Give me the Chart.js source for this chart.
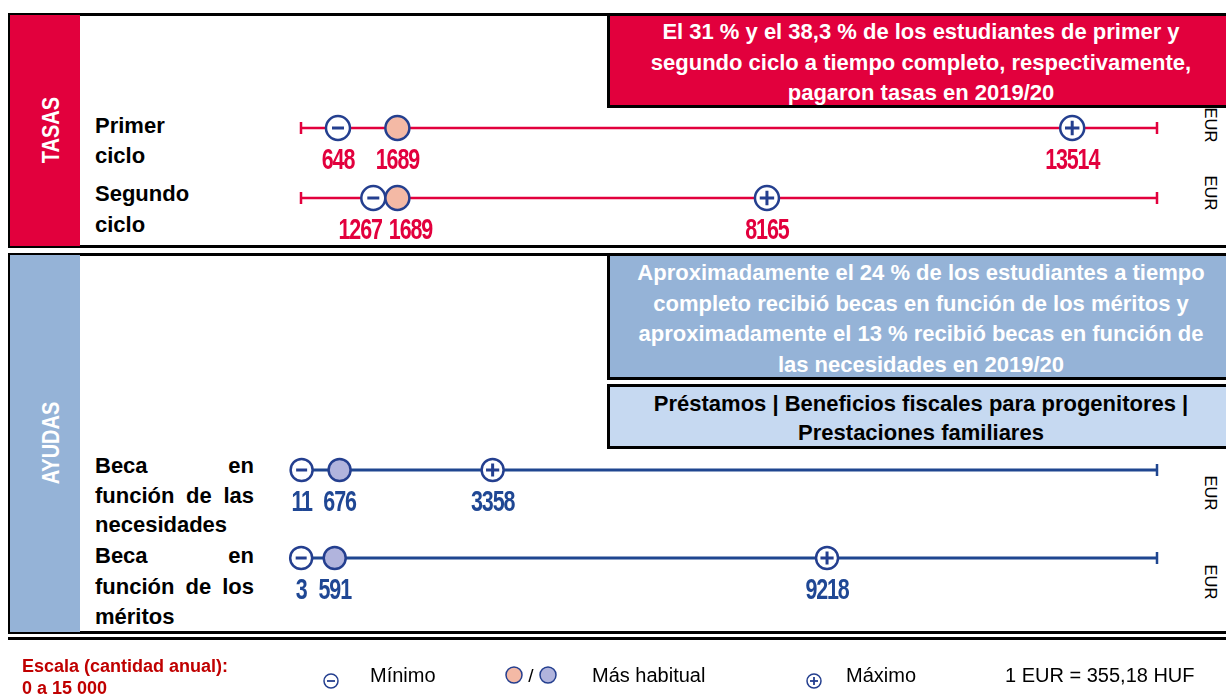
<!DOCTYPE html>
<html lang="es">
<head>
<meta charset="utf-8">
<title>Tasas y ayudas 2019/20</title>
<script src="https://cdn.jsdelivr.net/npm/chart.js@4.4.1/dist/chart.umd.min.js"></script>
<style>
body{margin:0;background:#fff;font-family:"Liberation Sans",Arial,sans-serif;}
#page{position:relative;width:1226px;height:699px;overflow:hidden;background:#fff;}
.abs{position:absolute;box-sizing:border-box;}
.frame{border:3px solid #000;border-right:none;}
.side-label{position:absolute;color:#fff;font-weight:bold;font-size:20px;transform:translate(-50%,-50%) rotate(-90deg) scale(1,1.15);white-space:nowrap;}
.callout{border:3px solid #000;border-right:none;text-align:center;font-weight:bold;font-size:22px;line-height:30.5px;}
.row-label{position:absolute;left:95px;width:159px;font-weight:bold;font-size:22px;line-height:30px;color:#000;text-align:justify;text-align-last:left;}
.eur{position:absolute;font-size:16.5px;transform:translate(-50%,-50%) rotate(90deg);white-space:nowrap;color:#000;}
.legend{position:absolute;font-size:20px;color:#000;white-space:nowrap;transform:translateY(-50%);}
canvas{position:absolute;left:0;top:0;pointer-events:none;}
</style>
</head>
<body>
<div id="page">
  <!-- TASAS -->
  <div class="abs frame" style="left:8px;top:13px;width:1230px;height:235px;"></div>
  <div class="abs" style="left:10px;top:15px;width:70px;height:231px;background:#e2003d;"></div>
  <div class="side-label" style="left:52px;top:130px;">TASAS</div>
  <div class="abs callout" style="left:607px;top:13px;width:625px;height:95px;background:#e2003d;color:#fff;padding-top:1px;">
    El 31 % y el 38,3 % de los estudiantes de primer y<br>segundo ciclo a tiempo completo, respectivamente,<br>pagaron tasas en 2019/20
  </div>
  <div class="row-label" style="top:111px;">Primer<br>ciclo</div>
  <div class="row-label" style="top:178px;line-height:31px;">Segundo<br>ciclo</div>
  <div class="eur" style="left:1210px;top:125px;">EUR</div>
  <div class="eur" style="left:1210px;top:193px;">EUR</div>

  <!-- AYUDAS -->
  <div class="abs frame" style="left:8px;top:253px;width:1230px;height:381px;"></div>
  <div class="abs" style="left:10px;top:255px;width:70px;height:377px;background:#95b3d7;"></div>
  <div class="side-label" style="left:52px;top:443px;">AYUDAS</div>
  <div class="abs callout" style="left:607px;top:253px;width:625px;height:127px;background:#95b3d7;color:#fff;padding-top:2px;">
    Aproximadamente el 24 % de los estudiantes a tiempo<br>completo recibió becas en función de los méritos y<br>aproximadamente el 13 % recibió becas en función de<br>las necesidades en 2019/20
  </div>
  <div class="abs callout" style="left:607px;top:384px;width:625px;height:65px;background:#c6d9f1;color:#000;line-height:29px;padding-top:2px;">
    Préstamos | Beneficios fiscales para progenitores |<br>Prestaciones familiares
  </div>
  <div class="row-label" style="top:451px;line-height:29.5px;">Beca en función de las necesidades</div>
  <div class="row-label" style="top:541px;line-height:30.5px;">Beca en función de los méritos</div>
  <div class="eur" style="left:1210px;top:493px;">EUR</div>
  <div class="eur" style="left:1210px;top:582px;">EUR</div>

  <div class="abs" style="left:8px;top:637px;width:1218px;height:3px;background:#000;"></div>

  <canvas id="tasas-chart" width="1226" height="699"></canvas>
  <canvas id="ayudas-chart" width="1226" height="699"></canvas>

  <!-- legend -->
  <div class="legend" style="left:22px;top:666px;font-size:18px;font-weight:bold;color:#c00000;">Escala (cantidad anual):</div>
  <div class="legend" style="left:22px;top:688px;font-size:18px;font-weight:bold;color:#c00000;">0 a 15 000</div>
  <svg class="abs" style="left:322px;top:672px;" width="18" height="18"><circle cx="9" cy="9" r="7" fill="#fff" stroke="#243f8f" stroke-width="1.5"/><line x1="5" y1="9" x2="13" y2="9" stroke="#243f8f" stroke-width="1.8"/></svg>
  <div class="legend" style="left:370px;top:675px;">Mínimo</div>
  <svg class="abs" style="left:503px;top:664px;" width="56" height="22"><circle cx="11" cy="11" r="8" fill="#f4b9a5" stroke="#243f8f" stroke-width="1.5"/><text x="28" y="18" font-size="19" text-anchor="middle" font-family="Liberation Sans, Arial">/</text><circle cx="45" cy="11" r="8" fill="#b1b4dd" stroke="#243f8f" stroke-width="1.5"/></svg>
  <div class="legend" style="left:592px;top:675px;">Más habitual</div>
  <svg class="abs" style="left:805px;top:672px;" width="18" height="18"><circle cx="9" cy="9" r="7" fill="#fff" stroke="#243f8f" stroke-width="1.5"/><line x1="5" y1="9" x2="13" y2="9" stroke="#243f8f" stroke-width="1.8"/><line x1="9" y1="5" x2="9" y2="13" stroke="#243f8f" stroke-width="1.8"/></svg>
  <div class="legend" style="left:846px;top:675px;">Máximo</div>
  <div class="legend" style="left:1005px;top:675px;">1 EUR = 355,18 HUF</div>
</div>

<script>
// escala anual en EUR
const scaleMin = 0;
const scaleMax = 15000;

// tasas (EUR/año)
const tasasRows = ["Primer ciclo", "Segundo ciclo"];
const tasasMin = [648, 1267];
const tasasMode = [1689, 1689];
const tasasMax = [13514, 8165];

// ayudas (EUR/año)
const ayudasRows = ["Beca en función de las necesidades", "Beca en función de los méritos"];
const ayudasMin = [11, 3];
const ayudasMode = [676, 591];
const ayudasMax = [3358, 9218];

const navy = "#243f8f";

// etiquetas numericas debajo de cada punto
const valueLabels = {
    id: "valueLabels",
    afterDatasetsDraw(chart, args, opts){
        const ctx = chart.ctx;
        const x = chart.scales.x, y = chart.scales.y;
        const sx = 0.74;
        ctx.save();
        ctx.font = 'bold 29px "Liberation Sans", Arial, sans-serif';
        ctx.letterSpacing = "-1.5px";
        ctx.fillStyle = opts.color;
        ctx.textAlign = "center";
        ctx.textBaseline = "middle";
        opts.rows.forEach((vals, r) => {
            let items = vals.map(v => ({
                text: String(v),
                w: ctx.measureText(String(v)).width * sx,
                cx: x.getPixelForValue(v)
            }));
            for(let i = 1; i < items.length; i++){
                const a = items[i-1], b = items[i];
                const need = (a.w + b.w) / 2 + 7;
                if(b.cx - a.cx < need){
                    const d = (need - (b.cx - a.cx)) / 2;
                    a.cx -= d; b.cx += d;
                }
            }
            const py = y.getPixelForValue(r) + 33;
            items.forEach(it => {
                ctx.save();
                ctx.translate(it.cx, py);
                ctx.scale(sx, 1);
                ctx.fillText(it.text, 0, 0);
                ctx.restore();
            });
        });
        ctx.restore();
    }
};

function buildDatasets(minV, modeV, maxV, lineColor, lineWidth, modeFill, rad){
    let ds = [];
    minV.forEach((v, i) => {
        ds.push({
            data: [{x: scaleMin, y: i}, {x: scaleMax, y: i}],
            showLine: true,
            borderColor: lineColor,
            borderWidth: lineWidth,
            pointStyle: "line",
            pointRotation: 90,
            pointRadius: 6,
            pointBorderColor: lineColor,
            pointBorderWidth: 2.5,
            order: 10,
            clip: false
        });
    });
    ds.push({data: minV.map((v, i) => ({x: v, y: i})), pointStyle: "circle", pointRadius: rad,
        pointBackgroundColor: "#fff", pointBorderColor: navy, pointBorderWidth: 2.5, order: 6, clip: false});
    ds.push({data: minV.map((v, i) => ({x: v, y: i})), pointStyle: "line", pointRadius: rad * 0.5,
        pointBorderColor: navy, pointBorderWidth: 3, order: 5, clip: false});
    ds.push({data: modeV.map((v, i) => ({x: v, y: i})), pointStyle: "circle", pointRadius: rad,
        pointBackgroundColor: modeFill, pointBorderColor: navy, pointBorderWidth: 2.5, order: 4, clip: false});
    ds.push({data: maxV.map((v, i) => ({x: v, y: i})), pointStyle: "circle", pointRadius: rad,
        pointBackgroundColor: "#fff", pointBorderColor: navy, pointBorderWidth: 2.5, order: 6, clip: false});
    ds.push({data: maxV.map((v, i) => ({x: v, y: i})), pointStyle: "cross", pointRadius: rad * 0.6,
        pointBorderColor: navy, pointBorderWidth: 3, order: 5, clip: false});
    return ds;
}

function baseOptions(padTop, padBottom, labelRows, labelColor){
    return {
        responsive: false,
        animation: false,
        events: [],
        layout: {padding: {left: 301, right: 69, top: padTop, bottom: padBottom}},
        plugins: {
            legend: {display: false},
            tooltip: {enabled: false},
            valueLabels: {rows: labelRows, color: labelColor}
        },
        scales: {
            x: {type: "linear", min: scaleMin, max: scaleMax, display: false},
            y: {type: "linear", min: -0.5, max: 1.5, reverse: true, display: false}
        }
    };
}

window.onload = function(){

    let tasasChart = new Chart(
        document.getElementById("tasas-chart"), {
            type: "scatter",
            data: {datasets: buildDatasets(tasasMin, tasasMode, tasasMax, "#e2003d", 2.5, "#f4b9a5", 12)},
            options: baseOptions(93, 466, tasasRows.map((r, i) => [tasasMin[i], tasasMode[i], tasasMax[i]]), "#e2003d"),
            plugins: [valueLabels]
        }
    );

    let ayudasChart = new Chart(
        document.getElementById("ayudas-chart"), {
            type: "scatter",
            data: {datasets: buildDatasets(ayudasMin, ayudasMode, ayudasMax, "#1f4690", 3, "#b1b4dd", 11)},
            options: baseOptions(426, 97, ayudasRows.map((r, i) => [ayudasMin[i], ayudasMode[i], ayudasMax[i]]), "#1f4794"),
            plugins: [valueLabels]
        }
    );
}
</script>
</body>
</html>
